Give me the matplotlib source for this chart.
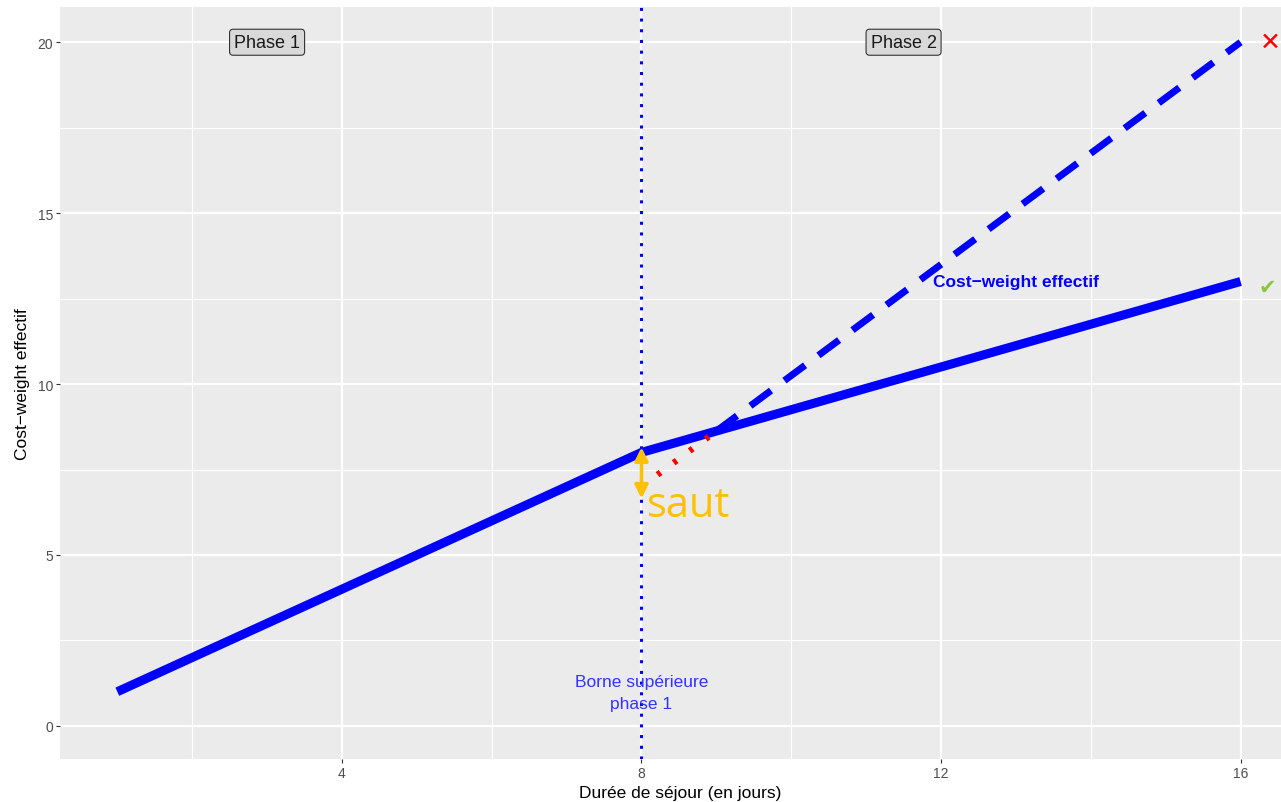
import matplotlib.pyplot as plt
from matplotlib.ticker import MultipleLocator

plt.rcParams['font.family'] = ['Liberation Sans', 'DejaVu Sans']

# data
solid_x = [1, 8, 16]
solid_y = [1, 8, 13]
dashed_x = [9, 16]
dashed_y = [8.625, 20]
red_x = [8, 9]
red_y = [7, 8.625]
jump_y = [6.65, 8.15]
borne_x = 8

fig = plt.figure(figsize=(12.81, 8.03), dpi=100)
ax = fig.add_axes([0.0468, 0.0535, 0.9532, 0.9365])
ax.set_facecolor('#ebebeb')
for s in ax.spines.values():
    s.set_visible(False)

ax.set_xlim(0.234, 16.54)
ax.set_ylim(-0.97, 21.03)
ax.xaxis.set_major_locator(MultipleLocator(4))
ax.xaxis.set_minor_locator(MultipleLocator(2))
ax.yaxis.set_major_locator(MultipleLocator(5))
ax.yaxis.set_minor_locator(MultipleLocator(2.5))
ax.grid(which='major', color='white', lw=1.6)
ax.grid(which='minor', color='white', lw=0.8)
ax.set_axisbelow(True)
ax.tick_params(which='major', length=3, color='#333333', labelsize=10, labelcolor='#4d4d4d', pad=2)
ax.tick_params(which='minor', length=0)

ax.set_xlabel('Durée de séjour (en jours)', fontsize=12.5)
ax.xaxis.set_label_coords(0.508, -0.034)
ax.xaxis.label.set_va('top')
ax.set_ylabel('Cost\u2212weight effectif', fontsize=12.5, labelpad=5)

ax.plot(solid_x, solid_y, color='blue', lw=6.5, solid_capstyle='butt', zorder=3)
ax.plot(dashed_x, dashed_y, color='blue', lw=5, ls=(0, (3.7, 2.4)), zorder=3)
ax.plot(red_x, red_y, color='red', lw=4.5, ls=(0, (0.6, 2.6)), zorder=4)
ax.axvline(borne_x, color='blue', lw=2.2, ls=(0, (1, 2.5)), zorder=2)

ax.annotate('', xy=(8, jump_y[1]), xytext=(8, jump_y[0]),
            arrowprops=dict(arrowstyle='<|-|>', color='#ffc000', lw=2.5,
                            mutation_scale=20, shrinkA=0, shrinkB=0), zorder=5)
ax.text(8.07, 6.45, 'saut', color='#ffc000', fontsize=30, family='Open Sans',
        va='center', ha='left')

box = dict(boxstyle='round,pad=0.25,rounding_size=0.2', fc='#d9d9d9', ec='#333333', lw=0.8)
ax.text(3, 20, 'Phase 1', fontsize=13, ha='center', va='center', color='#1a1a1a', bbox=box)
ax.text(11.5, 20, 'Phase 2', fontsize=13, ha='center', va='center', color='#1a1a1a', bbox=box)

ax.text(13.0, 13.0, 'Cost\u2212weight effectif', color='blue', fontsize=12.5,
        fontweight='bold', ha='center', va='center')
ax.text(8, 0.98, 'Borne supérieure\nphase 1', color='#3333ff', fontsize=12.5,
        ha='center', va='center', linespacing=1.6)

ax.text(16.4, 20, '\u2715', color='red', fontsize=18, ha='center', va='center',
        family='DejaVu Sans', clip_on=False)
ax.text(16.36, 12.85, '\u2714', color='#8cc63f', fontsize=15, ha='center', va='center',
        family='DejaVu Sans', clip_on=False)

fig.savefig('out.png', dpi=100)
